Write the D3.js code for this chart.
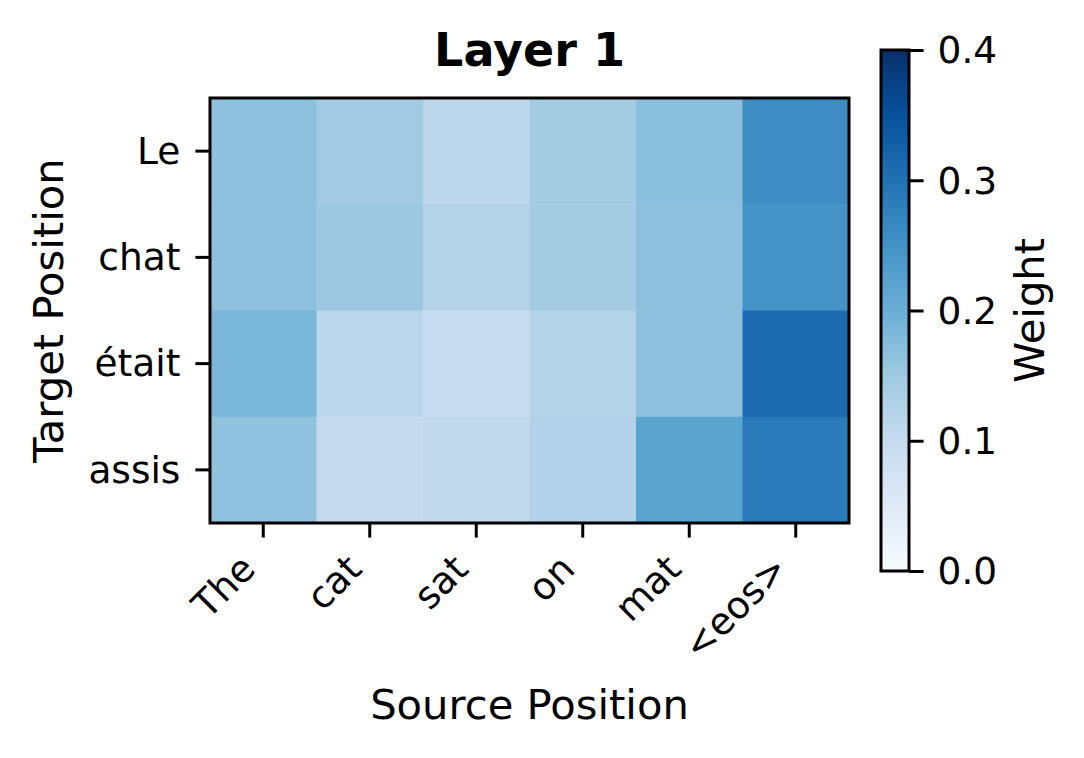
<!DOCTYPE html>
<meta charset="utf-8">
<style>
  body { margin: 0; background: #fff; }
  text { font-family: "DejaVu Sans", sans-serif; fill: #000; }
</style>
<svg width="1084" height="758"></svg>
<script src="https://d3js.org/d3.v7.min.js"></script>
<script>
  // tokens
  var sourceTokens = ['The', 'cat', 'sat', 'on', 'mat', '<eos>']
  var targetTokens = ['Le', 'chat', 'était', 'assis']

  // attention weights, one row per target token
  var rowLe    = [0.168, 0.148, 0.113, 0.144, 0.170, 0.258]
  var rowChat  = [0.168, 0.153, 0.124, 0.144, 0.167, 0.248]
  var rowEtait = [0.185, 0.115, 0.096, 0.124, 0.168, 0.310]
  var rowAssis = [0.162, 0.100, 0.106, 0.126, 0.218, 0.286]
  var weights = [rowLe, rowChat, rowEtait, rowAssis]

  var colorTicks = [0, 0.1, 0.2, 0.3, 0.4]
  // matplotlib "Blues" stops
  var blues = ['#f7fbff', '#deebf7', '#c6dbef', '#9ecae1', '#6baed6',
               '#4292c6', '#2171b5', '#08519c', '#08306b']

  var svg = d3.select('svg')

  // plot box (note: "top" is reserved on window, so use prefixed names)
  var pLeft = 210, pRight = 849, pTop = 98, pBottom = 523
  var tickLen = 14.6, lw = 3

  var x = d3.scaleBand().domain(sourceTokens).range([pLeft, pRight])
  var y = d3.scaleBand().domain(targetTokens).range([pTop, pBottom])

  var vmax = 0.4
  var color = d3.scaleLinear()
    .domain(blues.map((c, i) => i * vmax / (blues.length - 1)))
    .range(blues)
    .clamp(true)

  // flatten cells
  var cells = []
  weights.forEach((row, r) => {
    row.forEach((v, c) => {
      cells.push({ src: sourceTokens[c], tgt: targetTokens[r], v: v })
    })
  })

  svg.append('g')
    .selectAll('rect')
    .data(cells)
    .enter().append('rect')
    .attr('x', d => x(d.src))
    .attr('y', d => y(d.tgt))
    .attr('width', x.bandwidth() + 0.5)
    .attr('height', y.bandwidth() + 0.5)
    .attr('fill', d => color(d.v))

  // frame
  svg.append('rect')
    .attr('x', pLeft).attr('y', pTop)
    .attr('width', pRight - pLeft).attr('height', pBottom - pTop)
    .attr('fill', 'none').attr('stroke', '#000').attr('stroke-width', lw)

  // x axis
  var xAxis = svg.append('g')
    .attr('transform', 'translate(0,' + pBottom + ')')
    .call(d3.axisBottom(x).tickSize(tickLen).tickFormat(''))
  xAxis.select('.domain').remove()
  xAxis.selectAll('line').attr('stroke-width', lw)

  svg.append('g')
    .selectAll('text')
    .data(sourceTokens)
    .enter().append('text')
    .attr('transform', d => 'translate(' + (x(d) + x.bandwidth() / 2 - 6) + ',571) rotate(-45)')
    .attr('text-anchor', 'end')
    .attr('font-size', 37.5)
    .text(d => d)

  // y axis
  var yAxis = svg.append('g')
    .attr('transform', 'translate(' + pLeft + ',0)')
    .call(d3.axisLeft(y).tickSize(tickLen).tickPadding(15))
  yAxis.select('.domain').remove()
  yAxis.selectAll('line').attr('stroke-width', lw)
  yAxis.selectAll('text')
    .attr('font-size', 37.5)
    .attr('font-family', '"DejaVu Sans", sans-serif')
    .attr('dy', '0.34em')

  // titles
  svg.append('text')
    .attr('x', (pLeft + pRight) / 2).attr('y', 65.5)
    .attr('text-anchor', 'middle')
    .attr('font-size', 46)
    .attr('font-weight', 'bold')
    .text('Layer 1')

  svg.append('text')
    .attr('x', (pLeft + pRight) / 2).attr('y', 719)
    .attr('text-anchor', 'middle')
    .attr('font-size', 41.7)
    .text('Source Position')

  svg.append('text')
    .attr('transform', 'translate(63,' + (pTop + pBottom) / 2 + ') rotate(-90)')
    .attr('text-anchor', 'middle')
    .attr('font-size', 41.7)
    .text('Target Position')

  // colorbar
  var cbLeft = 881, cbRight = 909, cbTop = 50, cbBottom = 571
  var cbScale = d3.scaleLinear().domain([0, vmax]).range([cbBottom, cbTop])

  var grad = svg.append('defs').append('linearGradient')
    .attr('id', 'cbGrad')
    .attr('x1', 0).attr('y1', 1).attr('x2', 0).attr('y2', 0)
  grad.selectAll('stop')
    .data(color.domain())
    .enter().append('stop')
    .attr('offset', d => d / vmax)
    .attr('stop-color', d => color(d))

  svg.append('rect')
    .attr('x', cbLeft).attr('y', cbTop)
    .attr('width', cbRight - cbLeft).attr('height', cbBottom - cbTop)
    .attr('fill', 'url(#cbGrad)')
    .attr('stroke', '#000').attr('stroke-width', lw)

  var cbAxis = svg.append('g')
    .attr('transform', 'translate(' + cbRight + ',0)')
    .call(d3.axisRight(cbScale).tickValues(colorTicks).tickSize(tickLen).tickPadding(14).tickFormat(d3.format('.1f')))
  cbAxis.select('.domain').remove()
  cbAxis.selectAll('line').attr('stroke-width', lw)
  cbAxis.selectAll('text')
    .attr('font-size', 37.5)
    .attr('font-family', '"DejaVu Sans", sans-serif')
    .attr('dy', '0.34em')

  svg.append('text')
    .attr('transform', 'translate(1044,' + (cbTop + cbBottom) / 2 + ') rotate(-90)')
    .attr('text-anchor', 'middle')
    .attr('font-size', 41.7)
    .text('Weight')
</script>
